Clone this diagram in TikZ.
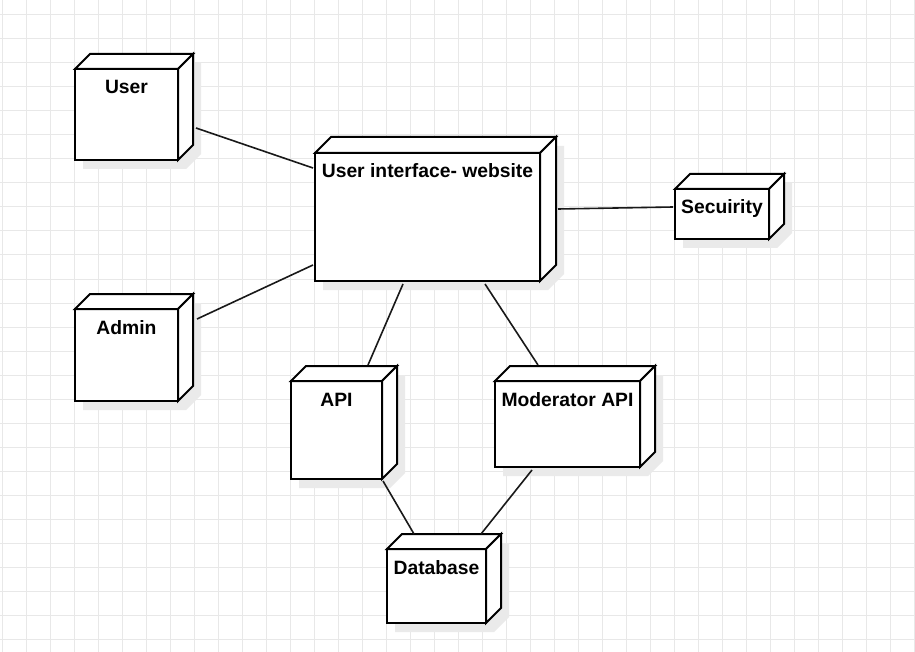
\documentclass[tikz,border=0pt]{standalone}
\usepackage{fontspec}
\setmainfont{Liberation Sans}
\usetikzlibrary{calc}

\definecolor{gridc}{HTML}{E8E8E8}
\definecolor{shadowc}{HTML}{EAEAEA}

\tikzset{
  boxline/.style={line width=2pt, line join=miter, draw=black},
  frontface/.style={boxline, fill=white, rectangle, inner sep=0pt, outer sep=0pt},
  lbl/.style={font=\bfseries\fontsize{19.3}{23}\selectfont, inner sep=0pt},
  link/.style={line width=1.6pt, draw=black!90},
  gridline/.style={line width=1pt, draw=gridc},
}

% deployment node: #1 name, #2 left, #3 top, #4 right, #5 bottom, #6 depth, #7 label
\newcommand{\depbox}[7]{%
  \fill[shadowc] (#2+8,#3+9) -- ++(#6,-#6) -- (#4+#6+8,#3-#6+9)
    -- (#4+#6+8,#5-#6+9) -- (#4+8,#5+9) -- (#2+8,#5+9) -- cycle;
  \node[frontface, anchor=north west, minimum width={#4-#2}, minimum height={#5-#3}]
    (#1) at (#2,#3) {};
  \draw[boxline, fill=white] (#1.north west) -- ++(#6,-#6)
    -- ($(#1.north east)+(#6,-#6)$) -- (#1.north east) -- cycle;
  \draw[boxline, fill=white] (#1.north east) -- ++(#6,-#6)
    -- ($(#1.south east)+(#6,-#6)$) -- (#1.south east) -- cycle;
  \node[lbl, anchor=base] (#1-lbl) at ($(#1.north)+(0,25)$) {#7};
}

\begin{document}
\begin{tikzpicture}[x=1pt, y=-1pt]
  % canvas
  \useasboundingbox (0,0) rectangle (915,652);
  \fill[white] (0,0) rectangle (915,652);

  % background grid
  \foreach \k in {0,...,38} {
    \draw[gridline] (2.7+24*\k,0) -- (2.7+24*\k,652);
  }
  \foreach \k in {0,...,26} {
    \draw[gridline] (0,15+24*\k) -- (915,15+24*\k);
  }

  % nodes
  \depbox{user}{75}{69}{178}{160}{15}{User}
  \depbox{admin}{75}{309}{178}{401}{15}{Admin}
  \depbox{ui}{315}{153}{540}{281}{16}{User interface- website}
  \depbox{sec}{675}{189}{769}{239}{15}{Secuirity}
  \depbox{api}{291}{381}{382}{479}{15}{API}
  \depbox{mod}{495}{381}{640}{467}{15}{Moderator API}
  \depbox{db}{387}{549}{486}{623}{15}{Database}

  % connectors
  \draw[link] ($(user.north east)+(18,59)$) -- ($(ui.north west)+(-2,15)$);
  \draw[link] ($(admin.north east)+(19,10)$) -- ($(ui.south west)+(-2,-16)$);
  \draw[link] ($(ui.north east)+(18,56)$) -- ($(sec.north west)+(-2,18)$);
  \draw[link] ($(ui.south west)+(88,3)$) -- ($(api.north west)+(77,-16)$);
  \draw[link] ($(ui.south west)+(170,3)$) -- ($(mod.north west)+(43,-16)$);
  \draw[link] ($(api.south east)+(1,2)$) -- ($(db.north west)+(27,-15)$);
  \draw[link] ($(mod.south west)+(37,3)$) -- ($(db.north west)+(94,-15)$);
\end{tikzpicture}
\end{document}
